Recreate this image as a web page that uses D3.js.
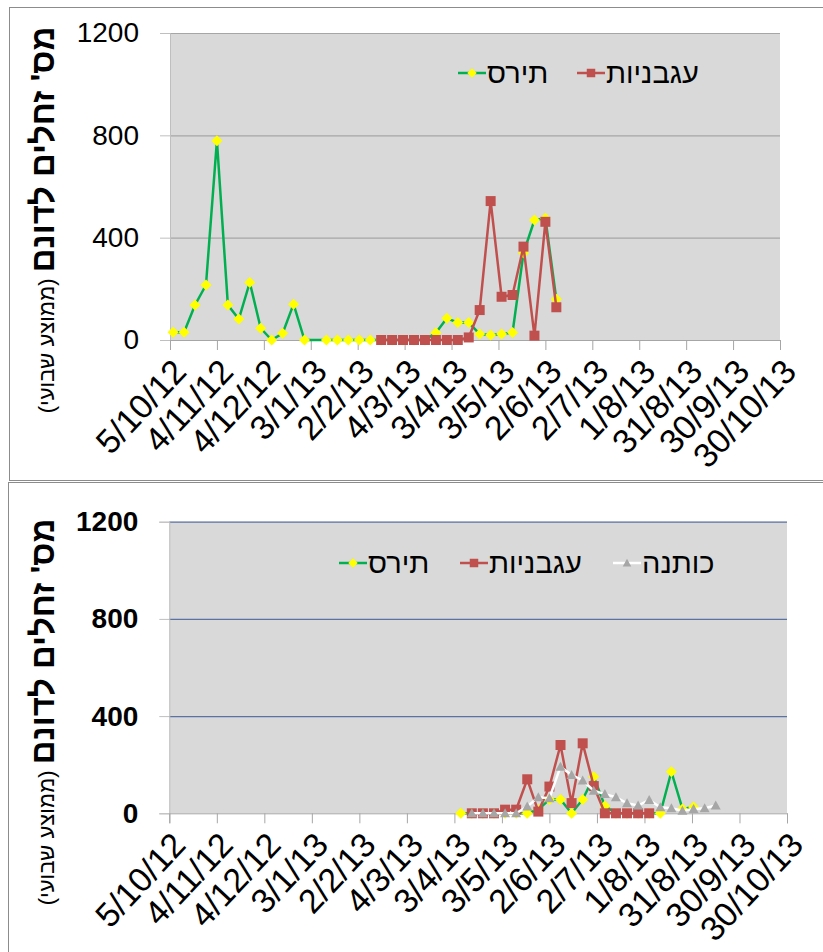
<!DOCTYPE html>
<html>
<head>
<meta charset="utf-8">
<script src="https://cdn.jsdelivr.net/npm/d3@7"></script>
<style>
body { margin: 0; background: #fff; }
svg { display: block; font-family: "Liberation Sans", Arial, sans-serif; }
</style>
</head>
<body>
<script>
// sampling weeks (one reading per week)
var weeks = [
    '2012-10-07', '2012-10-14', '2012-10-21', '2012-10-28', '2012-11-04', '2012-11-11', '2012-11-18', '2012-11-25',
    '2012-12-02', '2012-12-09', '2012-12-16', '2012-12-23', '2012-12-30', '2013-01-06', '2013-01-13', '2013-01-20',
    '2013-01-27', '2013-02-03', '2013-02-10', '2013-02-17', '2013-02-24', '2013-03-03', '2013-03-10', '2013-03-17',
    '2013-03-24', '2013-03-31', '2013-04-07', '2013-04-14', '2013-04-21', '2013-04-28', '2013-05-05', '2013-05-12',
    '2013-05-19', '2013-05-26', '2013-06-02', '2013-06-09', '2013-06-16', '2013-06-23', '2013-06-30', '2013-07-07',
    '2013-07-14', '2013-07-21', '2013-07-28', '2013-08-04', '2013-08-11', '2013-08-18', '2013-08-25', '2013-09-01',
    '2013-09-08', '2013-09-15'
];

// upper chart
var cornTop = [
    30, 30, 137, 215, 779, 137, 82, 225, 46, 0, 26, 140, 0, null, 0, 0,
    0, 0, 0, 0, 0, 0, 0, 0, 28, 85, 68, 68, 23, 20, 23, 29,
    340, 469, 476, 159, null, null, null, null, null, null, null, null, null, null, null, null,
    null, null
];
var tomatoTop = [
    null, null, null, null, null, null, null, null, null, null, null, null, null, null, null, null,
    null, null, null, 0, 0, 0, 0, 0, 0, 0, 0, 10, 117, 543, 169, 176,
    365, 17, 462, 128, null, null, null, null, null, null, null, null, null, null, null, null,
    null, null
];

// lower chart
var cornBottom = [
    null, null, null, null, null, null, null, null, null, null, null, null, null, null, null, null,
    null, null, null, null, null, null, null, null, null, null, 0, 0, 0, 0, 0, 0,
    0, 15, 57, 57, 0, 57, 150, 30, 0, 0, 0, 0, 0, 171, 18, 26,
    null, null
];
var tomatoBottom = [
    null, null, null, null, null, null, null, null, null, null, null, null, null, null, null, null,
    null, null, null, null, null, null, null, null, null, null, null, 0, 0, 0, 15, 15,
    140, 7, 110, 281, 42, 288, 112, 0, 0, 0, 0, 0, null, null, null, null,
    null, null
];
var cottonBottom = [
    null, null, null, null, null, null, null, null, null, null, null, null, null, null, null, null,
    null, null, null, null, null, null, null, null, null, null, null, 0, 0, 0, 0, 0,
    28, 66, 62, 192, 158, 135, 93, 79, 66, 41, 32, 55, 25, 21, 11, 18,
    21, 32
];

var xTickLabels = ['5/10/12', '4/11/12', '4/12/12', '3/1/13', '2/2/13', '4/3/13', '3/4/13',
    '3/5/13', '2/6/13', '2/7/13', '1/8/13', '31/8/13', '30/9/13', '30/10/13'];
var yTicks = [0, 400, 800, 1200];
var seriesNames = ['תירס', 'עגבניות', 'כותנה'];
var yTitle = "מס' זחלים לדונם";
var ySubTitle = '(ממוצע שבועי)';

var parseWeek = d3.timeParse('%Y-%m-%d');
var parseTick = d3.timeParse('%d/%m/%y');

var marker = {
    diamond: 'M0,-5.5L5.5,0L0,5.5L-5.5,0Z',
    square: 'M-5,-5H5V5H-5Z',
    triangle: 'M0,-5L5,4L-5,4Z'
};
var styles = [
    { line: '#00b050', fill: '#ffff00', shape: 'diamond' },
    { line: '#c0504d', fill: '#c0504d', shape: 'square' },
    { line: '#ffffff', fill: '#a6a6a6', shape: 'triangle' }
];

var svg = d3.select('body').append('svg').attr('width', 823).attr('height', 952);

// panel frames
svg.append('rect').attr('x', 9.5).attr('y', 7.5).attr('width', 830).attr('height', 473)
    .attr('fill', '#fff').attr('stroke', '#8c8c8c');
svg.append('rect').attr('x', 8.5).attr('y', 482.5).attr('width', 830).attr('height', 480)
    .attr('fill', '#fff').attr('stroke', '#8c8c8c');

function drawChart(cfg) {
    var w = cfg.right - cfg.left,
        h = cfg.bottom - cfg.top;
    var g = svg.append('g').attr('transform', 'translate(' + cfg.left + ',' + cfg.top + ')');

    var x = d3.scaleTime()
        .domain([parseTick(xTickLabels[0]), parseTick(xTickLabels[xTickLabels.length - 1])])
        .range([0, w]);
    var y = d3.scaleLinear().domain([0, 1200]).range([h, 0]);

    g.append('rect').attr('width', w).attr('height', h).attr('fill', '#d9d9d9');

    // gridlines
    var grid = g.append('g').call(d3.axisLeft(y).tickValues(yTicks.slice(1)).tickSize(-w).tickFormat(''));
    grid.select('.domain').remove();
    grid.selectAll('line').attr('stroke', cfg.gridColor).attr('stroke-width', 1.2);

    // y axis
    var yAxis = g.append('g').call(d3.axisLeft(y).tickValues(yTicks).tickSize(10).tickPadding(21).tickFormat(d3.format('d')));
    yAxis.select('.domain').attr('stroke', '#bfbfbf');
    yAxis.selectAll('line').attr('stroke', '#bfbfbf');
    yAxis.selectAll('text')
        .style('font-family', '"Liberation Sans", Arial, sans-serif')
        .style('font-size', '28px')
        .style('font-weight', cfg.yBold ? 'bold' : 'normal')
        .attr('fill', '#000');

    // x axis
    var xAxis = g.append('g').attr('transform', 'translate(0,' + h + ')')
        .call(d3.axisBottom(x)
            .tickValues(xTickLabels.map(parseTick))
            .tickSize(10)
            .tickFormat(function(d, i) { return xTickLabels[i]; }));
    xAxis.select('.domain').attr('stroke', '#a6a6a6');
    xAxis.selectAll('line').attr('stroke', '#a6a6a6');
    xAxis.selectAll('text')
        .style('font-family', '"Liberation Sans", Arial, sans-serif')
        .style('font-size', '34px')
        .attr('fill', '#000')
        .attr('text-anchor', 'end')
        .attr('x', 0).attr('y', 0).attr('dy', '0.35em')
        .attr('transform', 'translate(9,25) rotate(-47)');

    // series
    var line = d3.line()
        .x(function(d) { return x(d.date); })
        .y(function(d) { return y(d.v); });
    cfg.series.forEach(function(s) {
        var st = styles[s.style];
        var pts = weeks.map(function(wk, i) { return { date: parseWeek(wk), v: s.values[i] }; })
            .filter(function(d) { return d.v !== null; });
        g.append('path').datum(pts)
            .attr('d', line)
            .attr('fill', 'none')
            .attr('stroke', st.line)
            .attr('stroke-width', 2.5);
        g.append('g').selectAll('path').data(pts).enter().append('path')
            .attr('d', marker[st.shape])
            .attr('transform', function(d) { return 'translate(' + x(d.date) + ',' + y(d.v) + ')'; })
            .attr('fill', st.fill);
    });

    // legend
    cfg.legend.forEach(function(it) {
        var st = styles[it.style];
        var lg = svg.append('g').attr('transform', 'translate(' + it.x + ',' + cfg.legendY + ')');
        lg.append('line').attr('x1', 0).attr('x2', 28).attr('stroke', st.line).attr('stroke-width', 2.5);
        lg.append('path').attr('d', marker[st.shape]).attr('transform', 'translate(14,0) scale(0.85)').attr('fill', st.fill);
        lg.append('text').attr('x', 29).attr('dy', '0.35em')
            .style('font-size', '29px')
            .text(seriesNames[it.style]);
    });

    // y title
    var t = svg.append('text')
        .attr('transform', 'translate(48,' + cfg.titleY + ') rotate(-90)')
        .attr('text-anchor', 'middle')
        .attr('dy', '0.35em');
    t.append('tspan').style('font-size', '33px').style('font-weight', 'bold').text(yTitle);
    t.append('tspan').style('font-size', '22px').text(' ' + ySubTitle);
}

drawChart({
    left: 170, right: 780, top: 33, bottom: 340,
    gridColor: '#a6a6a6', yBold: false,
    legendY: 73, titleY: 220,
    series: [{ values: cornTop, style: 0 }, { values: tomatoTop, style: 1 }],
    legend: [{ x: 458, style: 0 }, { x: 577, style: 1 }]
});

drawChart({
    left: 169.3, right: 787, top: 521.7, bottom: 813.3,
    gridColor: '#5b72a3', yBold: true,
    legendY: 563, titleY: 712,
    series: [{ values: cornBottom, style: 0 }, { values: tomatoBottom, style: 1 }, { values: cottonBottom, style: 2 }],
    legend: [{ x: 339, style: 0 }, { x: 460, style: 1 }, { x: 613, style: 2 }]
});
</script>
</body>
</html>
